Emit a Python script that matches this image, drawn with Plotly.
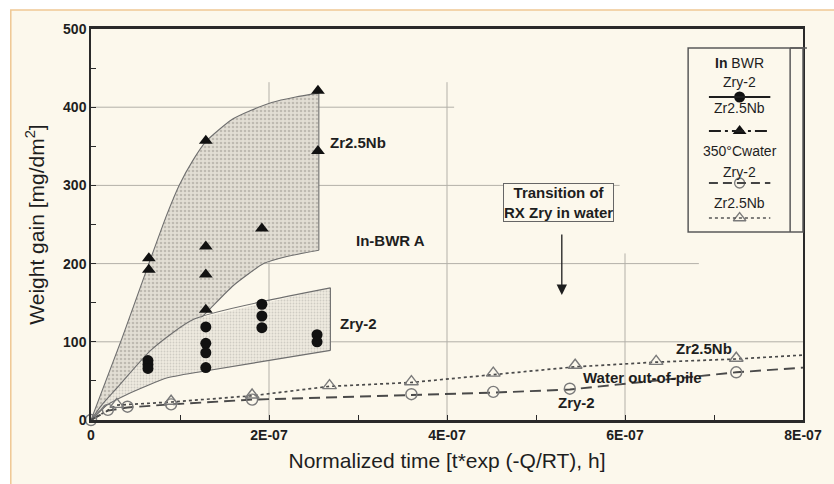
import plotly.graph_objects as go

# ---------------- data ----------------
# In-BWR exposures (filled markers)
bwr_zr25nb_t = [0.65e-7, 0.65e-7, 1.29e-7, 1.29e-7, 1.29e-7, 1.29e-7, 1.92e-7, 2.55e-7, 2.55e-7]
bwr_zr25nb_w = [207, 192, 357, 222, 186, 141, 245, 421, 344]

bwr_zry2_t = [0.64e-7, 0.64e-7, 0.64e-7, 1.29e-7, 1.29e-7, 1.29e-7, 1.29e-7,
              1.92e-7, 1.92e-7, 1.92e-7, 2.54e-7, 2.54e-7]
bwr_zry2_w = [76, 71, 66, 119, 98, 86, 67, 148, 133, 118, 109, 100]

# 350 C water, out-of-pile (open markers)
water_zry2_t = [0, 0.19e-7, 0.41e-7, 0.9e-7, 1.81e-7, 3.6e-7, 4.52e-7, 5.38e-7, 7.25e-7]
water_zry2_w = [0, 13, 17, 20, 26, 33, 36, 40, 61]

water_zr25nb_t = [0.29e-7, 0.9e-7, 1.81e-7, 2.68e-7, 3.6e-7, 4.52e-7, 5.44e-7, 6.35e-7, 7.25e-7]
water_zr25nb_w = [20, 24, 32, 44, 49, 60, 70, 75, 79]

# trend lines through the out-of-pile data
trend_zry2_t = [0, 0.19e-7, 0.41e-7, 0.9e-7, 1.81e-7, 3.6e-7, 4.52e-7, 5.38e-7, 7.25e-7, 8e-7]
trend_zry2_w = [0, 12, 16, 20, 26, 32, 35, 39, 61, 67]
trend_zr25nb_t = [0, 0.29e-7, 0.9e-7, 1.81e-7, 2.68e-7, 3.6e-7, 4.52e-7, 5.44e-7, 6.35e-7, 7.25e-7, 8e-7]
trend_zr25nb_w = [0, 19, 23, 31, 43, 48, 58, 68, 74, 78, 83]

# scatter bands of the in-BWR data: curved upper edge, vertical right edge, curved lower edge
band_zr25nb_upper_t = [0, 0.35e-7, 0.65e-7, 0.85e-7, 0.99e-7, 1.15e-7, 1.29e-7, 1.58e-7, 1.8e-7, 2.03e-7, 2.3e-7, 2.56e-7]
band_zr25nb_upper_w = [0, 105, 200, 262, 300, 333, 356, 384, 396, 406, 413, 418]
band_zr25nb_lower_t = [0, 0.63e-7, 1.24e-7, 1.6e-7, 1.94e-7, 2.2e-7, 2.56e-7]
band_zr25nb_lower_w = [0, 68, 131, 172, 200, 209, 217]

band_zry2_upper_t = [0, 0.12e-7, 0.3e-7, 0.68e-7, 1.16e-7, 2.69e-7]
band_zry2_upper_w = [0, 19, 42, 90, 129, 169]
band_zry2_lower_t = [0, 0.15e-7, 0.41e-7, 0.86e-7, 1.35e-7, 2.69e-7]
band_zry2_lower_w = [0, 17, 33, 54, 64, 89]

x_tickvals = [0, 2e-7, 4e-7, 6e-7, 8e-7]
x_ticktext = ["0", "2E-07", "4E-07", "6E-07", "8E-07"]
y_tickvals = [0, 100, 200, 300, 400, 500]

# ---------------- styling ----------------
FONT = "Liberation Sans, Arial, sans-serif"
INK = "#1e1e1e"
GREY = "#7a7a7a"
CREAM = "#fcf8ec"
EDGE = "#6e6e6e"

W, H = 834, 484
ML, MR, MT, MB = 91, 24, 29, 64
PW, PH = W - ML - MR, H - MT - MB


def px(x):
    """horizontal pixel -> paper fraction"""
    return (x - ML) / PW


def py(y):
    """vertical pixel -> paper fraction"""
    return (H - MB - y) / PH


def closed_band(up_t, up_w, lo_t, lo_w):
    return up_t + lo_t[::-1], up_w + lo_w[::-1]


fig = go.Figure()


def add_band(up_t, up_w, lo_t, lo_w, pattern):
    bx, by = closed_band(up_t, up_w, lo_t, lo_w)
    # filled area, no outline
    fig.add_trace(go.Scatter(x=bx, y=by, mode="lines", fill="toself",
                             line=dict(width=0),
                             fillcolor=pattern["bgcolor"], fillpattern=pattern, hoverinfo="skip"))
    # smooth curved edges
    for t, w in [(up_t, up_w), (lo_t, lo_w)]:
        fig.add_trace(go.Scatter(x=t, y=w, mode="lines",
                                 line=dict(color=EDGE, width=1.1, shape="spline", smoothing=0.6),
                                 hoverinfo="skip"))
    # straight right edge
    fig.add_trace(go.Scatter(x=[up_t[-1], lo_t[-1]], y=[up_w[-1], lo_w[-1]], mode="lines",
                             line=dict(color=EDGE, width=1.1), hoverinfo="skip"))


add_band(band_zr25nb_upper_t, band_zr25nb_upper_w, band_zr25nb_lower_t, band_zr25nb_lower_w,
         dict(shape=".", fgcolor="#9a968d", bgcolor="#e2ded4", size=4, solidity=0.35))
add_band(band_zry2_upper_t, band_zry2_upper_w, band_zry2_lower_t, band_zry2_lower_w,
         dict(shape=".", fgcolor="#b0ada5", bgcolor="#eeeae0", size=3, solidity=0.3))

fig.add_trace(go.Scatter(
    x=trend_zr25nb_t, y=trend_zr25nb_w, mode="lines",
    line=dict(color="#4a4a4a", width=1.7, dash="3px,3px")))
fig.add_trace(go.Scatter(
    x=trend_zry2_t, y=trend_zry2_w, mode="lines",
    line=dict(color="#4a4a4a", width=1.9, dash="11px,6px")))

fig.add_trace(go.Scatter(
    x=water_zr25nb_t, y=water_zr25nb_w, mode="markers", cliponaxis=False,
    marker=dict(symbol="triangle-up-open", size=12, color=GREY, line=dict(width=1.4, color=GREY))))
fig.add_trace(go.Scatter(
    x=water_zry2_t, y=water_zry2_w, mode="markers", cliponaxis=False,
    marker=dict(symbol="circle-open", size=11, color=GREY, line=dict(width=1.4, color=GREY))))

fig.add_trace(go.Scatter(
    x=bwr_zr25nb_t, y=bwr_zr25nb_w, mode="markers",
    marker=dict(symbol="triangle-up", size=12, color="#111111")))
fig.add_trace(go.Scatter(
    x=bwr_zry2_t, y=bwr_zry2_w, mode="markers",
    marker=dict(symbol="circle", size=11, color="#111111")))

# legend glyphs, placed on an overlay axis that spans the plot area as 0..1
leg_x = px(746)
fig.add_trace(go.Scatter(x=[leg_x], y=[py(97)], mode="markers", xaxis="x2", yaxis="y2",
                         marker=dict(symbol="circle", size=11, color="#111111")))
fig.add_trace(go.Scatter(x=[leg_x], y=[py(131)], mode="markers", xaxis="x2", yaxis="y2",
                         marker=dict(symbol="triangle-up", size=12, color="#111111")))
fig.add_trace(go.Scatter(x=[leg_x], y=[py(183)], mode="markers", xaxis="x2", yaxis="y2",
                         marker=dict(symbol="circle-open", size=10, color=GREY, line=dict(width=1.3, color=GREY))))
fig.add_trace(go.Scatter(x=[leg_x], y=[py(218)], mode="markers", xaxis="x2", yaxis="y2",
                         marker=dict(symbol="triangle-up-open", size=11, color=GREY, line=dict(width=1.3, color=GREY))))

shapes = []
# page frame
shapes.append(dict(type="rect", xref="paper", yref="paper",
                   x0=px(10), x1=px(900), y0=py(520), y1=py(10),
                   fillcolor=CREAM, line=dict(color="#efc894", width=1.5), layer="below"))

# partial grid lines
grid = dict(color="#b3b0a8", width=1)
for xv, ytop in [(2e-7, 432), (4e-7, 432), (6e-7, 213)]:
    shapes.append(dict(type="line", xref="x", yref="y", x0=xv, x1=xv, y0=0, y1=ytop, line=grid, layer="below"))
for yv, xend in [(100, 8e-7), (200, 6.83e-7), (300, 5.94e-7), (400, 4.08e-7)]:
    shapes.append(dict(type="line", xref="x", yref="y", x0=0, x1=xend, y0=yv, y1=yv, line=grid, layer="below"))

# legend box
box = dict(color="#5a5a5a", width=1.5)
shapes.append(dict(type="rect", xref="paper", yref="paper", x0=px(694), x1=px(810),
                   y0=py(232), y1=py(48), line=box, fillcolor="rgba(0,0,0,0)"))
shapes.append(dict(type="line", xref="paper", yref="paper", x0=px(797), x1=px(797),
                   y0=py(232), y1=py(48), line=box))
shapes.append(dict(type="line", xref="paper", yref="paper", x0=px(797), x1=px(814),
                   y0=py(48), y1=py(48), line=box))
lx0, lx1 = px(715), px(777)
shapes.append(dict(type="line", xref="paper", yref="paper", x0=lx0, x1=lx1, y0=py(97), y1=py(97),
                   line=dict(color=INK, width=2)))
shapes.append(dict(type="line", xref="paper", yref="paper", x0=lx0, x1=lx1, y0=py(131), y1=py(131),
                   line=dict(color=INK, width=2, dash="12px,4px,3px,4px")))
shapes.append(dict(type="line", xref="paper", yref="paper", x0=lx0, x1=lx1, y0=py(183), y1=py(183),
                   line=dict(color="#444444", width=1.8, dash="9px,5px")))
shapes.append(dict(type="line", xref="paper", yref="paper", x0=lx0, x1=lx1, y0=py(218), y1=py(218),
                   line=dict(color="#555555", width=1.5, dash="3px,3px")))

annotations = []
bold = dict(family=FONT, size=15, color=INK, weight="bold")
for txt, t, w in [("Zr2.5Nb", 3.0e-7, 355), ("In-BWR A", 3.36e-7, 230), ("Zry-2", 3.01e-7, 123),
                  ("Zr2.5Nb", 6.89e-7, 92), ("Water out-of-pile", 6.2e-7, 54), ("Zry-2", 5.46e-7, 22)]:
    annotations.append(dict(x=t, y=w, xref="x", yref="y", text=txt, showarrow=False, font=bold,
                            xanchor="center", yanchor="middle"))

annotations.append(dict(x=5.25e-7, y=278, xref="x", yref="y",
                        text="Transition of<br>RX Zry in water", showarrow=False,
                        xanchor="center", yanchor="middle",
                        font=dict(family=FONT, size=15, color=INK, weight="bold"),
                        bordercolor="#666666", borderwidth=1, borderpad=0, bgcolor=CREAM))
annotations.append(dict(x=5.29e-7, y=160, ax=5.29e-7, ay=239, xref="x", yref="y",
                        axref="x", ayref="y", text="", showarrow=True,
                        arrowhead=2, arrowsize=1.6, arrowwidth=1.3, arrowcolor=INK))

leg_font = dict(family=FONT, size=14, color=INK)
for txt, yy in [("<b>In</b> BWR", 63), ("Zry-2", 82), ("Zr2.5Nb", 108),
                ("350°Cwater", 151), ("Zry-2", 172), ("Zr2.5Nb", 203)]:
    annotations.append(dict(x=leg_x, y=py(yy), xref="paper", yref="paper", text=txt,
                            xanchor="center", yanchor="middle", showarrow=False, font=leg_font))

tickfont = dict(family=FONT, size=14, color=INK, weight="bold")
fig.update_layout(
    width=W, height=H,
    margin=dict(l=ML, r=MR, t=MT, b=MB),
    paper_bgcolor="white", plot_bgcolor="rgba(0,0,0,0)",
    showlegend=False,
    shapes=shapes, annotations=annotations,
    xaxis=dict(range=[0, 8e-7], tickvals=x_tickvals, ticktext=x_ticktext, tickfont=tickfont,
               showgrid=False, zeroline=False, showline=True, linecolor="#2a2a2a", linewidth=2.5,
               mirror=True, ticks="inside", ticklen=5, tickcolor="#2a2a2a",
               minor=dict(dtick=1e-7, ticks="inside", ticklen=5, tickcolor="#2a2a2a", showgrid=False),
               title=dict(text="Normalized time [t*exp (-Q/RT), h]",
                          font=dict(family=FONT, size=21, color=INK), standoff=12)),
    yaxis=dict(range=[0, 500], tickvals=y_tickvals, tickfont=tickfont,
               showgrid=False, zeroline=False, showline=True, linecolor="#2a2a2a", linewidth=1.5,
               mirror=True, ticks="inside", ticklen=5, tickcolor="#2a2a2a",
               minor=dict(dtick=50, ticks="inside", ticklen=5, tickcolor="#2a2a2a", showgrid=False),
               title=dict(text="Weight gain [mg/dm<sup>2</sup>]",
                          font=dict(family=FONT, size=21, color=INK), standoff=13)),
    xaxis2=dict(range=[0, 1], overlaying="x", visible=False, fixedrange=True),
    yaxis2=dict(range=[0, 1], overlaying="y", visible=False, fixedrange=True),
)

fig.write_html("out.html")
